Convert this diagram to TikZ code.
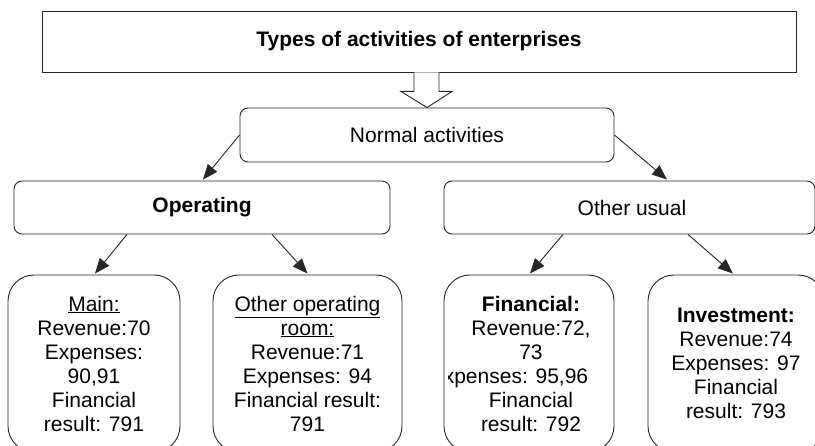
\documentclass[tikz,border=0pt]{standalone}
\usepackage{fontspec}
\setmainfont{Liberation Sans}
\usetikzlibrary{arrows.meta,calc}
\tikzset{
  ln/.style={draw=black!85, line width=0.9pt},
  titlebox/.style={ln, rectangle, minimum width=754pt, minimum height=61pt, inner sep=0pt,
    font=\fontsize{21}{24}\selectfont\bfseries},
  midbox/.style={ln, rectangle, rounded corners=8pt, inner sep=0pt,
    font=\fontsize{21}{24}\selectfont},
  leafbox/.style={ln, rectangle, rounded corners=26pt, inner sep=0pt,
    minimum height=177pt, align=center, font=\fontsize{21}{24}\selectfont},
  leaftext/.style={inner sep=0pt, align=center, font=\fontsize{21}{24}\selectfont},
  arr/.style={ln, -{Triangle[length=15pt,width=12pt]}},
  hollow/.style={ln, fill=white, line join=miter},
}
\begin{document}
\begin{tikzpicture}[x=1pt,y=-1pt]
\useasboundingbox (0,0) rectangle (815,446);
\clip (0,0) rectangle (815,446);
\fill[white] (0,0) rectangle (815,446);

% title
\node[titlebox] (title) at (419,41.5) {Types of activities of enterprises};

% level 1
\node[midbox, minimum width=374pt, minimum height=54pt] (normal) at (427,135) {Normal activities};

% level 2
\node[midbox, minimum width=376pt, minimum height=53pt, font=\fontsize{21}{24}\selectfont\bfseries] (oper) at (202,207.5) {Operating};
\node[midbox, minimum width=371pt, minimum height=53pt] (other) at (629.5,207.5) {\hspace*{5pt}Other usual};

% level 3
\node[leafbox, minimum width=172pt] (main) at (94,363.5) {\underline{Main:}\\Revenue:70\\Expenses:\\90,91\\Financial\\result: 791};
\node[leafbox, minimum width=189pt] (otherop) at (307.5,363.5) {\underline{Other operating}\\\underline{room:}\\Revenue:71\\Expenses: 94\\Financial result:\\791};
\node[leafbox, minimum width=170pt] (fin) at (529,363.5) {};
\begin{scope}
  \clip (448,275) rectangle (611,446);
  \node[leaftext] (fintext) at (531,364) {\textbf{Financial:}\\Revenue:72,\\73\\\makebox[0pt]{\hspace{-44pt}Expenses: 95,96}\\Financial\\result: 792};
\end{scope}
\node[leafbox, minimum width=176pt] (invest) at (736,363.5) {\textbf{Investment:}\\Revenue:74\\Expenses: 97\\Financial\\result: 793};

% hollow block arrow from title to normal
\draw[hollow] ($(title.south)+(-5,0)$) -- ++(0,19) -- ++(-13,0)
  -- (normal.north) -- ($(title.south)+(33,19)$) -- ++(-13,0) -- ($(title.south)+(20,0)$);

% connectors
\draw[arr] (normal.west) -- ($(oper.north)+(1,-1)$);
\draw[arr] (normal.east) -- ($(other.north)+(37.5,-1)$);
\draw[arr] ($(oper.south)+(-75,0)$) -- ($(main.north)+(1,-1)$);
\draw[arr] ($(oper.south)+(70,0)$) -- ($(otherop.north)+(0,-1)$);
\draw[arr] ($(other.south)+(-66.5,0)$) -- ($(fin.north)+(1,-1)$);
\draw[arr] ($(other.south)+(58.5,0)$) -- ($(invest.north)+(-3,-1)$);
\end{tikzpicture}
\end{document}
